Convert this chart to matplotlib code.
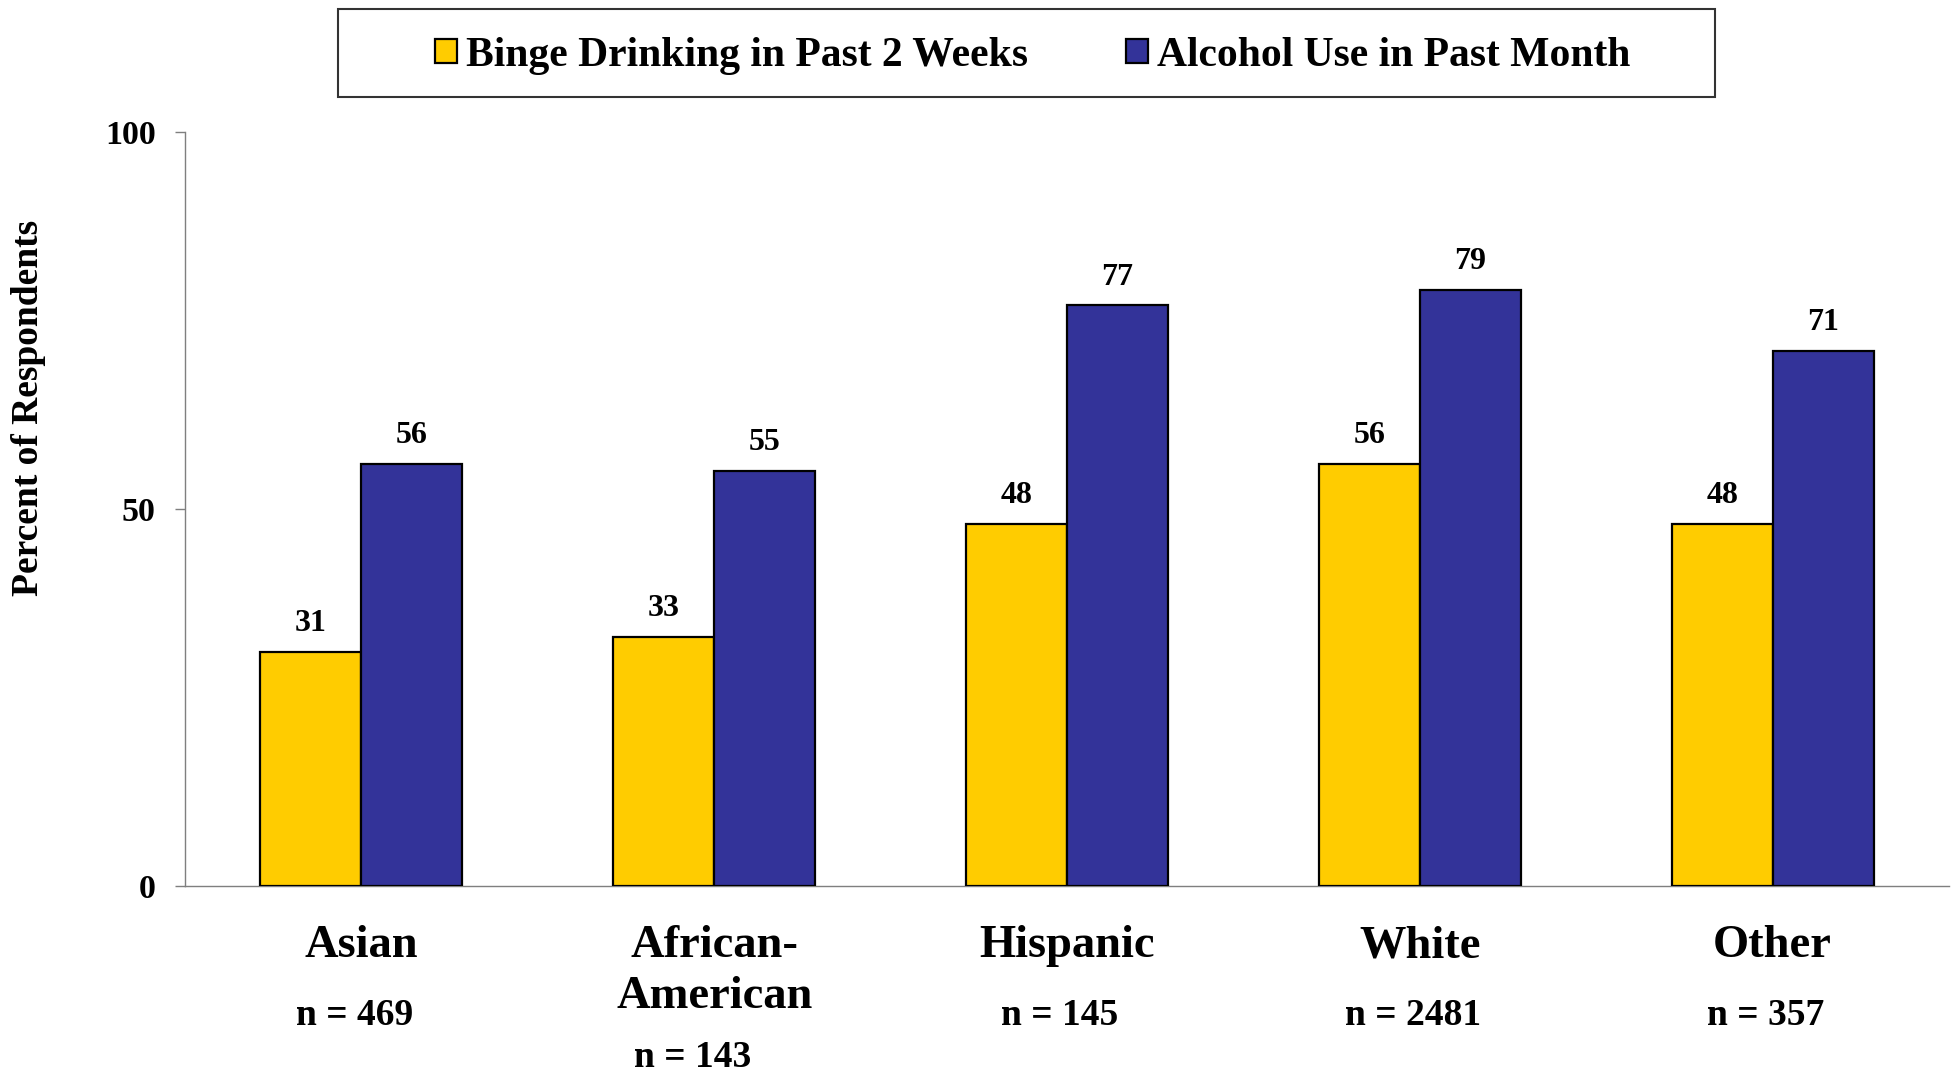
import matplotlib
matplotlib.use("Agg")
import matplotlib.pyplot as plt
import matplotlib.transforms as mtransforms
from matplotlib.patches import Rectangle
import numpy as np

# Data
groups = ["Asian", "African-\nAmerican", "Hispanic", "White", "Other"]
n_labels = ["n = 469", "n = 143", "n = 145", "n = 2481", "n = 357"]
binge = [31, 33, 48, 56, 48]
alcohol = [56, 55, 77, 79, 71]
series_names = ["Binge Drinking in Past 2 Weeks", "Alcohol Use in Past Month"]
colors = ["#FFCC00", "#333399"]

plt.rcParams["font.family"] = ["Liberation Serif", "DejaVu Serif"]
plt.rcParams["font.weight"] = "bold"

W, H = 1957, 1076
fig = plt.figure(figsize=(W / 100, H / 100), dpi=100)
ax = fig.add_axes([185 / W, 1 - 886 / H, (1949 - 185) / W, (886 - 132) / H])

x = np.arange(len(groups))
bw = 0.286
b1 = ax.bar(x - bw / 2, binge, bw, color=colors[0], edgecolor="black", linewidth=1.6,
            label=series_names[0], zorder=3)
b2 = ax.bar(x + bw / 2, alcohol, bw, color=colors[1], edgecolor="black", linewidth=1.6,
            label=series_names[1], zorder=3)

for bars, vals in [(b1, binge), (b2, alcohol)]:
    for r, v in zip(bars, vals):
        ax.annotate(str(v), (r.get_x() + r.get_width() / 2, v), xytext=(0, 10),
                    textcoords="offset points", ha="center", va="bottom",
                    fontsize=23, fontweight="bold")

ax.set_xlim(-0.5, len(groups) - 0.5)
ax.set_ylim(0, 100)
ax.set_yticks([0, 50, 100])
ax.set_xticks([])
ax.tick_params(axis="y", length=7, width=1, color="#7f7f7f", pad=14, labelsize=24.5)
for lbl in ax.get_yticklabels():
    lbl.set_fontweight("bold")
for s in ["top", "right"]:
    ax.spines[s].set_visible(False)
for s in ["left", "bottom"]:
    ax.spines[s].set_color("#7f7f7f")
    ax.spines[s].set_linewidth(1)

ax.set_ylabel("Percent of Respondents", fontsize=27, fontweight="bold")
ax.yaxis.set_label_coords(-0.079, 0.634)

# group labels below the axis, one text per line
trans = mtransforms.blended_transform_factory(ax.transData, fig.transFigure)
line_base = [957, 1008]
for i, (g, n) in enumerate(zip(groups, n_labels)):
    lines = g.split("\n")
    for j, line in enumerate(lines):
        ax.text(i, 1 - line_base[j] / H, line, transform=trans, ha="center",
                va="baseline", fontsize=33.5, fontweight="bold", clip_on=False)
    if len(lines) > 1:
        ax.text(i - 0.06, 1 - 1067 / H, n, transform=trans, ha="center",
                va="baseline", fontsize=27, fontweight="bold", clip_on=False)
    else:
        ax.text(i - 0.02, 1 - 1025 / H, n, transform=trans, ha="center",
                va="baseline", fontsize=27, fontweight="bold", clip_on=False)

# legend with a square box
fig.patches.append(Rectangle((338 / W, 1 - 97 / H), (1715 - 338) / W, 88 / H,
                             transform=fig.transFigure, fill=False,
                             edgecolor="#333333", linewidth=1.5))
fig.legend(handles=[b1, b2], loc="center",
           bbox_to_anchor=((338 + 1715) / 2 / W + 0.0032, 1 - 56 / H),
           ncol=2, frameon=False, prop={"size": 30, "weight": "bold"},
           handlelength=0.52, handleheight=0.52, handletextpad=0.22,
           columnspacing=2.37)

fig.savefig("out.png", dpi=100)
